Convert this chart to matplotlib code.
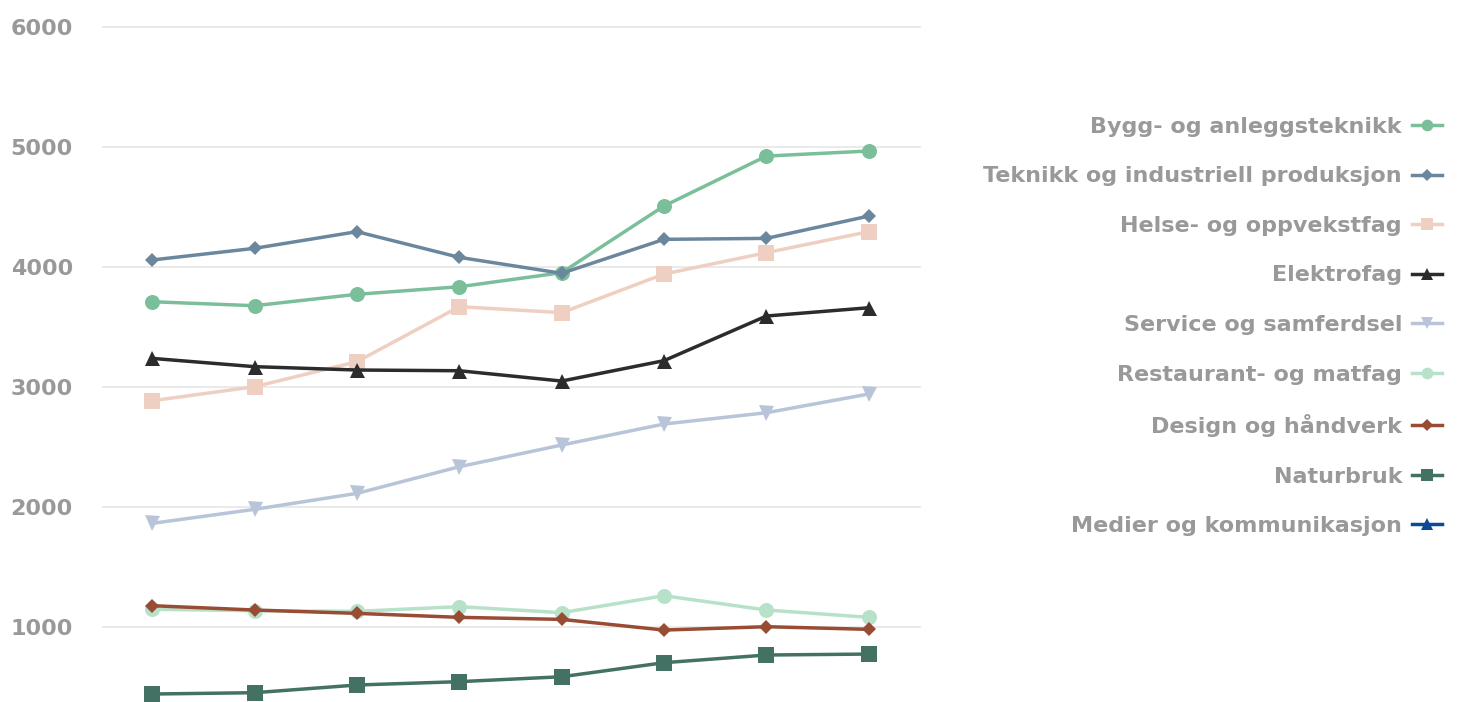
import numpy as np
import matplotlib
matplotlib.use("Agg")
import matplotlib.pyplot as plt

# values, one list per programme (8 periods, no x labels shown)
bygg       = [3708, 3675, 3770, 3833, 3950, 4506, 4922, 4964]
teknikk    = [4056, 4153, 4292, 4078, 3945, 4228, 4236, 4422]
helse      = [2883, 3000, 3208, 3667, 3617, 3939, 4117, 4292]
elektro    = [3236, 3167, 3139, 3133, 3047, 3217, 3589, 3658]
service    = [1861, 1978, 2111, 2333, 2514, 2689, 2783, 2939]
restaurant = [1145, 1133, 1128, 1167, 1117, 1258, 1139, 1078]
design     = [1175, 1139, 1111, 1078, 1061, 972, 1000, 978]
naturbruk  = [439, 450, 514, 542, 583, 700, 764, 772]
medier     = [np.nan, np.nan, np.nan, np.nan, np.nan, np.nan, np.nan, np.nan]

names = [
    "Bygg- og anleggsteknikk", "Teknikk og industriell produksjon",
    "Helse- og oppvekstfag", "Elektrofag", "Service og samferdsel",
    "Restaurant- og matfag", "Design og håndverk", "Naturbruk",
    "Medier og kommunikasjon",
]
series = [bygg, teknikk, helse, elektro, service, restaurant, design, naturbruk, medier]
y_ticks = [1000, 2000, 3000, 4000, 5000, 6000]

COLORS = ["#7bbf9a", "#6b879e", "#efcfc1", "#2c2c2c", "#b8c4d8",
          "#b8e1ca", "#984c33", "#437264", "#0c4a97"]
MARKERS = ["o", "D", "s", "^", "v", "o", "D", "s", "^"]
MSIZE = {"o": 10.8, "s": 11.0, "D": 7.6, "^": 10.8, "v": 10.8}
GRID, LABEL = "#e6e6e6", "#999999"

fig = plt.figure(figsize=(14.61, 7.02), dpi=100)
ax = fig.add_axes([102 / 1461, 0, (921 - 102) / 1461, 1])

x = np.arange(len(bygg))
for vals, name, col, mk in zip(series, names, COLORS, MARKERS):
    ax.plot(x, vals, color=col, lw=2.5, marker=mk, markersize=MSIZE[mk],
            markeredgewidth=0, label=name)

ax.set_xlim(-0.49, 7.51)
ax.set_ylim(372.5, 6222.5)
ax.set_yticks(y_ticks)
ax.set_xticks([])
ax.grid(axis="y", color=GRID, lw=1.2)
ax.set_axisbelow(True)
for s in ax.spines.values():
    s.set_visible(False)
ax.tick_params(axis="y", length=0, pad=21, labelsize=16, labelcolor=LABEL)
for t in ax.get_yticklabels():
    t.set_fontweight("bold")

leg = fig.legend(loc="center right", bbox_to_anchor=(1442 / 1461, 1 - 326.5 / 702),
                 frameon=False, markerfirst=False, labelcolor=LABEL,
                 prop={"size": 16, "weight": "bold"},
                 handlelength=1.35, handletextpad=0.45, labelspacing=1.33,
                 borderpad=0, borderaxespad=0, markerscale=0.78)

fig.savefig("out.png", dpi=100, facecolor="white")
